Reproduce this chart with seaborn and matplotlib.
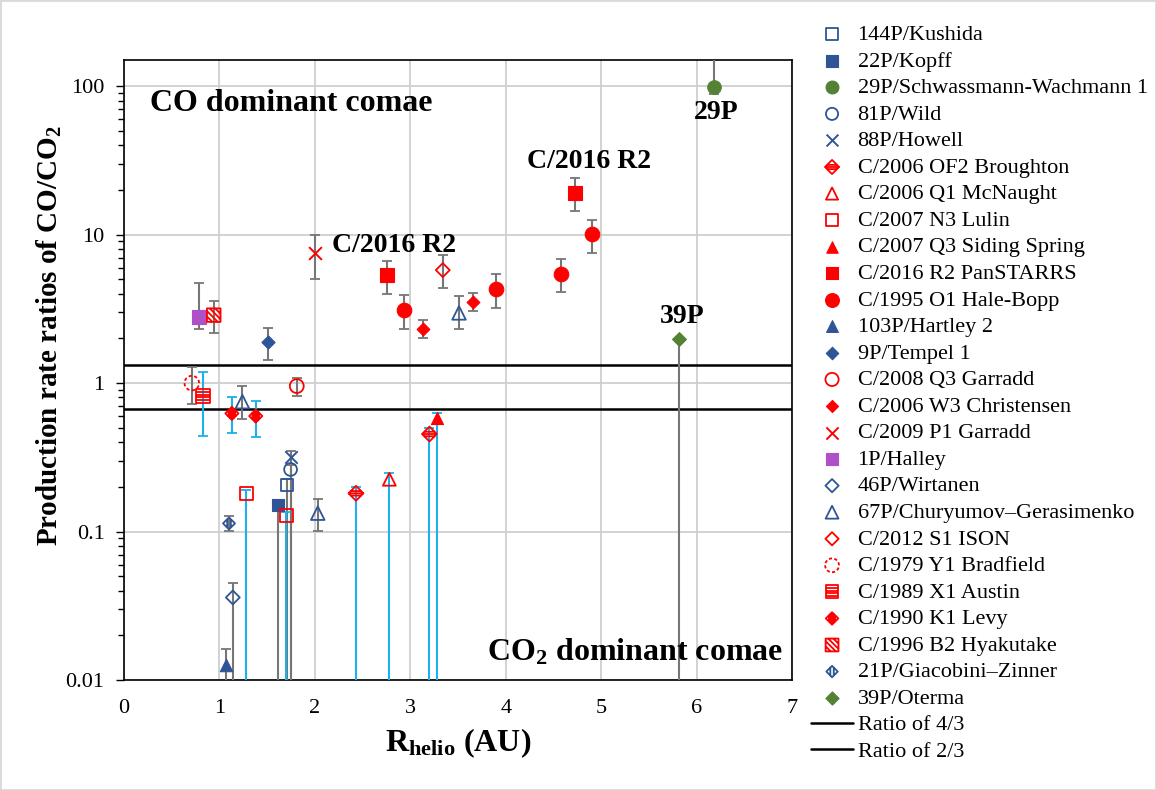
import numpy as np
import matplotlib
matplotlib.use("Agg")
import matplotlib.pyplot as plt
from matplotlib.path import Path
from matplotlib.patches import Rectangle
from matplotlib.ticker import LogLocator, NullFormatter
import seaborn as sns

# ---------------- data ----------------
comets = ["144P/Kushida", "22P/Kopff", "29P/Schwassmann-Wachmann 1", "81P/Wild", "88P/Howell",
          "C/2006 OF2 Broughton", "C/2006 Q1 McNaught", "C/2007 N3 Lulin", "C/2007 Q3 Siding Spring",
          "C/2016 R2 PanSTARRS", "C/1995 O1 Hale-Bopp", "103P/Hartley 2", "9P/Tempel 1",
          "C/2008 Q3 Garradd", "C/2006 W3 Christensen", "C/2009 P1 Garradd", "1P/Halley",
          "46P/Wirtanen", "67P/Churyumov–Gerasimenko", "C/2012 S1 ISON", "C/1979 Y1 Bradfield",
          "C/1989 X1 Austin", "C/1990 K1 Levy", "C/1996 B2 Hyakutake", "21P/Giacobini–Zinner",
          "39P/Oterma"]

point_comet = ["144P/Kushida", "22P/Kopff", "29P/Schwassmann-Wachmann 1", "81P/Wild", "88P/Howell",
               "C/2006 OF2 Broughton", "C/2006 OF2 Broughton", "C/2006 Q1 McNaught",
               "C/2007 N3 Lulin", "C/2007 N3 Lulin", "C/2007 Q3 Siding Spring",
               "C/2016 R2 PanSTARRS", "C/2016 R2 PanSTARRS",
               "C/1995 O1 Hale-Bopp", "C/1995 O1 Hale-Bopp", "C/1995 O1 Hale-Bopp", "C/1995 O1 Hale-Bopp",
               "103P/Hartley 2", "9P/Tempel 1", "C/2008 Q3 Garradd",
               "C/2006 W3 Christensen", "C/2006 W3 Christensen", "C/2009 P1 Garradd", "1P/Halley",
               "46P/Wirtanen", "67P/Churyumov–Gerasimenko", "67P/Churyumov–Gerasimenko",
               "67P/Churyumov–Gerasimenko", "C/2012 S1 ISON", "C/1979 Y1 Bradfield",
               "C/1989 X1 Austin", "C/1990 K1 Levy", "C/1990 K1 Levy", "C/1996 B2 Hyakutake",
               "21P/Giacobini–Zinner", "39P/Oterma"]
r_helio = [1.71, 1.61, 6.18, 1.745, 1.745,
           2.43, 3.20, 2.78,
           1.28, 1.70, 3.28,
           2.76, 4.73,
           2.935, 3.90, 4.58, 4.906,
           1.07, 1.51, 1.81,
           3.13, 3.66, 2.00, 0.79,
           1.14, 1.24, 2.03,
           3.51, 3.34, 0.71,
           0.83, 1.13, 1.38, 0.94,
           1.10, 5.82]
ratio = [0.206, 0.151, 98.0, 0.262, 0.32,
         0.181, 0.454, 0.225,
         0.181, 0.129, 0.578,
         5.34, 19.1,
         3.10, 4.30, 5.42, 10.07,
         0.0126, 1.88, 0.955,
         2.33, 3.53, 7.47, 2.80,
         0.036, 0.75, 0.133,
         2.97, 5.77, 1.00,
         0.82, 0.625, 0.60, 2.87,
         0.1135, 1.97]
ratio_low = [0.001, 0.001, 88.0, 0.001, 0.001,
             0.001, 0.001, 0.001,
             0.001, 0.001, 0.001,
             3.99, 14.5,
             2.33, 3.23, 4.08, 7.54,
             0.001, 1.43, 0.82,
             2.02, 3.07, 5.01, 2.30,
             0.001, 0.575, 0.101,
             2.30, 4.34, 0.72,
             0.44, 0.46, 0.435, 2.16,
             0.101, 0.001]
ratio_high = [0.225, 0.151, 400.0, 0.28, 0.35,
              0.20, 0.495, 0.249,
              0.19, 0.135, 0.63,
              6.63, 23.9,
              3.91, 5.40, 6.81, 12.6,
              0.0161, 2.35, 1.09,
              2.66, 4.06, 9.93, 4.69,
              0.045, 0.955, 0.167,
              3.85, 7.28, 1.28,
              1.18, 0.80, 0.76, 3.58,
              0.127, 1.97]
err_group = ["g", "g", "g", "g", "g",
             "c", "c", "c",
             "c", "c", "c",
             "g", "g",
             "g", "g", "g", "g",
             "g", "g", "g",
             "g", "g", "g", "g",
             "g", "g", "g",
             "g", "g", "g",
             "c", "c", "c", "g",
             "g", "g"]
ratio_lines = [4 / 3, 2 / 3]
ratio_line_labels = ["Ratio of 4/3", "Ratio of 2/3"]

# ---------------- custom marker paths ----------------
def compound(parts):
    verts, codes = [], []
    for pts, closed in parts:
        verts += list(pts)
        codes += [Path.MOVETO] + [Path.LINETO] * (len(pts) - 1)
        if closed:
            verts.append(pts[0])
            codes.append(Path.CLOSEPOLY)
    return Path(np.array(verts, float), codes)

SQ = [(-1, -1), (1, -1), (1, 1), (-1, 1)]
DM = [(0, -1), (1, 0), (0, 1), (-1, 0)]

austin_m = compound([(SQ, True)] + [([(-1, y), (1, y)], False) for y in (-0.6, -0.2, 0.2, 0.6)])
hyak_parts = [(SQ, True)]
for c in (-1.2, -0.4, 0.4, 1.2):
    x0, x1 = max(-1, c - 1), min(1, c + 1)
    hyak_parts.append(([(x0, c - x0), (x1, c - x1)], False))
hyak_m = compound(hyak_parts)
levy_m = compound([(DM, True)] + [([(x, -(1 - abs(x))), (x, 1 - abs(x))], False)
                                  for x in (-0.5, -0.25, 0.0, 0.25, 0.5)])
brough_m = compound([(DM, True)] + [([(-(1 - abs(y)), y), (1 - abs(y), y)], False)
                                    for y in (-0.3, 0.0, 0.3)])
gz_m = compound([(DM, True)] + [([(x, -(1 - abs(x))), (x, 1 - abs(x))], False) for x in (-0.3, 0.3)])
brad_parts = []
for k in range(8):
    th = np.deg2rad(np.linspace(k * 45, k * 45 + 26, 6))
    brad_parts.append((list(zip(np.cos(th), np.sin(th))), False))
brad_m = compound(brad_parts)

BLUE = "#2f5597"
RED = "#ff0000"
GREEN = "#548235"
PURPLE = "#b050c8"

# name -> (marker, color, filled, size)
styles = {
    "144P/Kushida": ("s", BLUE, False, 80),
    "22P/Kopff": ("s", BLUE, True, 85),
    "29P/Schwassmann-Wachmann 1": ("o", GREEN, True, 95),
    "81P/Wild": ("o", BLUE, False, 85),
    "88P/Howell": ("x", BLUE, None, 80),
    "C/2006 OF2 Broughton": (brough_m, RED, False, 115),
    "C/2006 Q1 McNaught": ("^", RED, False, 85),
    "C/2007 N3 Lulin": ("s", RED, False, 85),
    "C/2007 Q3 Siding Spring": ("^", RED, True, 75),
    "C/2016 R2 PanSTARRS": ("s", RED, True, 95),
    "C/1995 O1 Hale-Bopp": ("o", RED, True, 110),
    "103P/Hartley 2": ("^", BLUE, True, 80),
    "9P/Tempel 1": ("D", BLUE, True, 45),
    "C/2008 Q3 Garradd": ("o", RED, False, 100),
    "C/2006 W3 Christensen": ("D", RED, True, 42),
    "C/2009 P1 Garradd": ("x", RED, None, 85),
    "1P/Halley": ("s", PURPLE, True, 90),
    "46P/Wirtanen": ("D", BLUE, False, 50),
    "67P/Churyumov–Gerasimenko": ("^", BLUE, False, 95),
    "C/2012 S1 ISON": ("D", RED, False, 50),
    "C/1979 Y1 Bradfield": (brad_m, RED, False, 110),
    "C/1989 X1 Austin": (austin_m, RED, False, 95),
    "C/1990 K1 Levy": (levy_m, RED, False, 90),
    "C/1996 B2 Hyakutake": (hyak_m, RED, False, 95),
    "21P/Giacobini–Zinner": (gz_m, BLUE, False, 75),
    "39P/Oterma": ("D", GREEN, True, 50),
}
ERR_COLORS = {"g": "#767676", "c": "#1cb0ec"}

# ---------------- plotting ----------------
sns.set_theme(style="ticks")
plt.rcParams["font.family"] = ["Liberation Serif", "DejaVu Serif"]
plt.rcParams["mathtext.default"] = "regular"
for k in ("text.color", "axes.labelcolor", "xtick.color", "ytick.color", "axes.edgecolor"):
    plt.rcParams[k] = "black"

fig = plt.figure(figsize=(11.56, 7.90), dpi=100)
ax = fig.add_axes([0.1073, 0.1392, 0.5779, 0.7848])
ax.set_yscale("log")

r_arr = np.array(r_helio)
y_arr = np.array(ratio)
lo_arr = np.array(ratio_low)
hi_arr = np.array(ratio_high)
grp = np.array(err_group)
for g, col in ERR_COLORS.items():
    m = grp == g
    ax.errorbar(r_arr[m], y_arr[m], yerr=[y_arr[m] - lo_arr[m], hi_arr[m] - y_arr[m]],
                fmt="none", ecolor=col, elinewidth=1.5, capsize=3.6, capthick=1.3, zorder=3)

handles = []
for name in comets:
    idx = [i for i, c in enumerate(point_comet) if c == name]
    mk, col, filled, s = styles[name]
    kws = dict(marker=mk, s=s, color=col, zorder=4, legend=False, ax=ax, label=name)
    if filled is None:
        kws["linewidth"] = 1.4
    elif filled:
        kws.update(facecolor=col, edgecolor=col, linewidth=0.8)
    else:
        kws.update(facecolor="none", edgecolor=col, linewidth=1.3)
    sns.scatterplot(x=[r_helio[i] for i in idx], y=[ratio[i] for i in idx], **kws)
    handles.append(ax.collections[-1])

for val, lab in zip(ratio_lines, ratio_line_labels):
    ln = ax.axhline(val, color="black", lw=1.8, zorder=2, label=lab)
    handles.append(ln)

ax.set_xlim(0, 7)
ax.set_ylim(0.01, 150)
ax.set_xticks(range(8))
ax.set_xticklabels([str(i) for i in range(8)])
ax.set_yticks([0.01, 0.1, 1, 10, 100])
ax.set_yticklabels(["0.01", "0.1", "1", "10", "100"])
ax.yaxis.set_minor_locator(LogLocator(base=10, subs=np.arange(2, 10)))
ax.yaxis.set_minor_formatter(NullFormatter())
ax.grid(True, which="major", color="#cfcfcf", lw=1.3)
ax.set_axisbelow(True)
ax.tick_params(axis="y", which="major", length=6, width=1, labelsize=16, pad=8)
ax.tick_params(axis="y", which="minor", length=4.5, width=1)
ax.tick_params(axis="x", length=0, labelsize=16, pad=14)
for sp in ax.spines.values():
    sp.set_color("black")
    sp.set_linewidth(1.2)

ax.set_ylabel("Production rate ratios of CO/CO$_2$", fontsize=21, fontweight="bold")
ax.yaxis.set_label_coords(-0.09, 0.556)
ax.set_xlabel("R$_{helio}$ (AU)", fontsize=23, fontweight="bold")
ax.xaxis.set_label_coords(0.5, -0.075)

ax.text(0.27, 77, "CO dominant comae", fontsize=23, fontweight="bold", ha="left", va="center")
ax.text(6.91, 0.0155, "CO$_2$ dominant comae", fontsize=23, fontweight="bold", ha="right", va="center")
ax.text(2.18, 8.5, "C/2016 R2", fontsize=20, fontweight="bold", ha="left", va="center")
ax.text(4.22, 31, "C/2016 R2", fontsize=20, fontweight="bold", ha="left", va="center")
ax.text(6.20, 67, "29P", fontsize=20, fontweight="bold", ha="center", va="center")
ax.text(5.845, 2.8, "39P", fontsize=20, fontweight="bold", ha="center", va="center")

ax.legend(handles, [h.get_label() for h in handles], loc="upper left",
          bbox_to_anchor=(0.7015, 0.969), bbox_transform=fig.transFigure, frameon=False,
          fontsize=16, handlelength=1.9, handletextpad=0.2, labelspacing=0.27,
          borderpad=0, borderaxespad=0, markerscale=0.95)

fig.patches.append(Rectangle((0, 0), 1, 1, transform=fig.transFigure, fill=False,
                             edgecolor="#d9d9d9", lw=2))
fig.savefig("out.png", dpi=100)
